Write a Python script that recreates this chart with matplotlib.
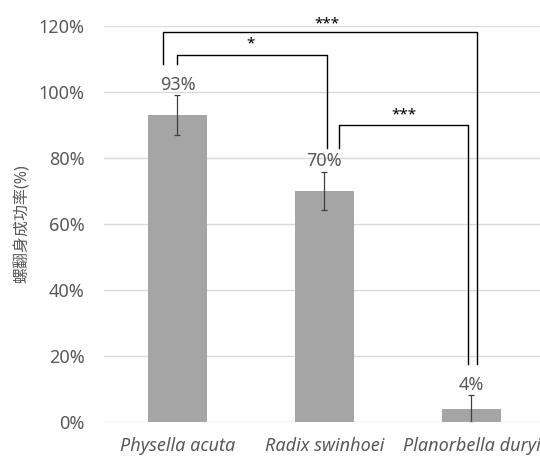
import numpy as np
import matplotlib
matplotlib.use("Agg")
import matplotlib.pyplot as plt

plt.rcParams['font.family'] = ['Noto Sans', 'Noto Sans CJK TC', 'DejaVu Sans']

species = ["Physella acuta", "Radix swinhoei", "Planorbella duryi"]
success = [0.93, 0.70, 0.04]
err = [0.06, 0.058, 0.042]
ylabel = "螺翻身成功率(%)"

# significance brackets: (x left, x right, y top, y left foot, y right foot, stars, star x, star y)
brackets = [
    (-0.10, 2.04, 1.181, 1.085, 0.175, "***", 1.02, 1.205),
    (0.00, 1.02, 1.111, 1.085, 0.829, "*", 0.50, 1.145),
    (1.10, 1.98, 0.901, 0.829, 0.175, "***", 1.54, 0.930),
]

grey = "#595959"

fig = plt.figure(figsize=(5.4, 4.59), dpi=100)
ax = fig.add_axes([0.1926, 0.0806, 0.8165, 0.8627])

x = np.arange(len(species))
ax.bar(x, success, width=0.40, color="#a5a5a5", zorder=2)
ax.errorbar(x, success, yerr=err, fmt="none", ecolor="#404040", elinewidth=0.9,
            capsize=2.5, capthick=0.9, zorder=3)

for xi, v, e in zip(x, success, err):
    ax.annotate(f"{v * 100:.0f}%", (xi, v + e), xytext=(0, 1), textcoords="offset points",
                ha="center", va="bottom", fontsize=13, color=grey)

for xl, xr, yt, yl, yr, s, sx, sy in brackets:
    ax.plot([xl, xl, xr, xr], [yl, yt, yt, yr], color="black", lw=1.0, zorder=4,
            clip_on=False)
    ax.text(sx, sy, s, ha="center", va="center", fontsize=11, fontweight="bold",
            color="black")

ax.set_xlim(-0.5, 2.5)
ax.set_ylim(0, 1.2)
ax.set_yticks(np.arange(0, 1.21, 0.2))
ax.set_yticklabels([f"{t:.0f}%" for t in np.arange(0, 121, 20)])
ax.set_xticks(x)
ax.set_xticklabels(species, fontstyle="italic")
ax.tick_params(axis="both", length=0, labelsize=13, colors=grey)
ax.tick_params(axis="y", pad=14)
ax.tick_params(axis="x", pad=11)
ax.yaxis.grid(True, color="#d9d9d9", lw=1.0, zorder=0)
ax.set_axisbelow(True)
for sp in ax.spines.values():
    sp.set_visible(False)
ax.set_ylabel(ylabel, fontsize=11.5, color=grey)
ax.yaxis.set_label_coords(-0.165, 0.5)

fig.savefig("out.png", dpi=100)
